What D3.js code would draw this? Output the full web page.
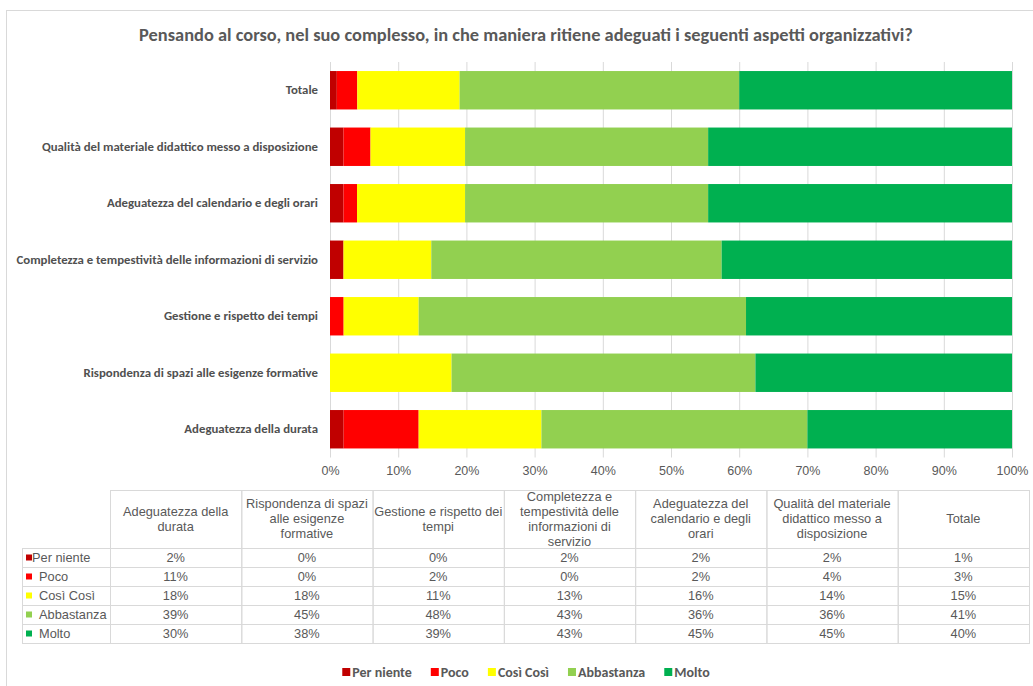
<!DOCTYPE html>
<html>
<head>
<meta charset="utf-8">
<script src="https://cdn.jsdelivr.net/npm/d3@7/dist/d3.min.js"></script>
<style>
  html, body { margin: 0; padding: 0; background: #fff; }
  svg { display: block; }
</style>
</head>
<body>
<svg id="chart" width="1033" height="686"></svg>
<script>
// Survey answers per organisational aspect (percentages)
const categories = [
  "Adeguatezza della durata",
  "Rispondenza di spazi alle esigenze formative",
  "Gestione e rispetto dei tempi",
  "Completezza e tempestività delle informazioni di servizio",
  "Adeguatezza del calendario e degli orari",
  "Qualità del materiale didattico messo a disposizione",
  "Totale"
];
// the same names as wrapped in the data table header
const headerLabels = [
  ["Adeguatezza della", "durata"],
  ["Rispondenza di spazi", "alle esigenze", "formative"],
  ["Gestione e rispetto dei", "tempi"],
  ["Completezza e", "tempestività delle", "informazioni di", "servizio"],
  ["Adeguatezza del", "calendario e degli", "orari"],
  ["Qualità del materiale", "didattico messo a", "disposizione"],
  ["Totale"]
];
const seriesNames = ["Per niente", "Poco", "Così Così", "Abbastanza", "Molto"];
const perNiente  = [2, 0, 0, 2, 2, 2, 1];
const poco       = [11, 0, 2, 0, 2, 4, 3];
const cosiCosi   = [18, 18, 11, 13, 16, 14, 15];
const abbastanza = [39, 45, 48, 43, 36, 36, 41];
const molto      = [30, 38, 39, 43, 45, 45, 40];
const xTicks = [0, 10, 20, 30, 40, 50, 60, 70, 80, 90, 100];
const colors = ["#C00000", "#FF0000", "#FFFF00", "#92D050", "#00B050"];
const title = "Pensando al corso, nel suo complesso, in che maniera ritiene adeguati i seguenti aspetti organizzativi?";

const seriesValues = [perNiente, poco, cosiCosi, abbastanza, molto];
const rows = categories.map((c, i) => {
  const r = { category: c };
  seriesNames.forEach((s, k) => { r[s] = seriesValues[k][i]; });
  return r;
});

const svg = d3.select("#chart");
const textGray = "#595959";
const gridGray = "#d9d9d9";
const calibri = "Carlito, Lato, 'Open Sans', sans-serif";
const arial = "'Liberation Sans', Arial, sans-serif";
const tableFont = 12.8;

// chart frame
svg.append("rect")
  .attr("x", 6.5).attr("y", 10.5)
  .attr("width", 1060).attr("height", 700)
  .attr("fill", "#fff").attr("stroke", gridGray);

// title
svg.append("text")
  .attr("x", 526).attr("y", 41)
  .attr("text-anchor", "middle")
  .attr("font-family", calibri).attr("font-weight", "bold")
  .attr("font-size", 18.4).attr("fill", textGray)
  .text(title);

// scales
const x = d3.scaleLinear().domain([0, 1]).range([330, 1012]);
const y = d3.scaleBand()
  .domain(categories.slice().reverse())
  .range([62, 457.5])
  .paddingInner(0.32)
  .paddingOuter(0.16);

// vertical gridlines
svg.append("g").selectAll("line")
  .data(xTicks)
  .join("line")
  .attr("x1", d => x(d / 100) + 0.5).attr("x2", d => x(d / 100) + 0.5)
  .attr("y1", 62).attr("y2", 457.5)
  .attr("stroke", gridGray).attr("stroke-width", 1);

// x axis tick labels
const xAxis = d3.axisBottom(x)
  .tickValues(xTicks.map(d => d / 100))
  .tickFormat(d3.format(".0%"))
  .tickSize(0).tickPadding(0);
const gx = svg.append("g").attr("transform", "translate(0,466)").call(xAxis);
gx.select(".domain").remove();
gx.selectAll("text")
  .attr("font-family", arial).attr("font-size", 12.5).attr("fill", textGray)
  .attr("dy", "0.71em");

// category labels
const yAxis = d3.axisLeft(y).tickSize(0).tickPadding(0);
const gy = svg.append("g").attr("transform", "translate(318,0)").call(yAxis);
gy.select(".domain").remove();
gy.selectAll("text")
  .attr("font-family", calibri).attr("font-weight", "bold")
  .attr("font-size", 12.8).attr("fill", "#505050");

// 100% stacked bars
const stack = d3.stack().keys(seriesNames).offset(d3.stackOffsetExpand);
const stacked = stack(rows);
svg.append("g").selectAll("g")
  .data(stacked)
  .join("g")
  .attr("fill", (d, i) => colors[i])
  .selectAll("rect")
  .data(d => d)
  .join("rect")
  .attr("x", d => x(d[0]))
  .attr("width", d => x(d[1]) - x(d[0]))
  .attr("y", d => y(d.data.category))
  .attr("height", y.bandwidth());

// data table
const tx0 = 22, firstW = 88, colW = (1029 - 110) / categories.length;
const headTop = 490, headH = 58, rowH = 19;
const table = svg.append("g");

// header cells
headerLabels.forEach((lines, i) => {
  const cx = 110 + i * colW;
  table.append("rect")
    .attr("x", cx + 0.5).attr("y", headTop + 0.5)
    .attr("width", colW).attr("height", headH)
    .attr("fill", "none").attr("stroke", gridGray);
  const lh = 15;
  const startY = headTop + headH / 2 - (lines.length - 1) * lh / 2;
  const t = table.append("text")
    .attr("font-family", arial).attr("font-size", tableFont).attr("fill", textGray)
    .attr("text-anchor", "middle");
  lines.forEach((l, k) => {
    t.append("tspan")
      .attr("x", cx + colW / 2)
      .attr("y", startY + k * lh)
      .attr("dy", "0.35em")
      .text(l);
  });
});

// value rows
seriesNames.forEach((s, r) => {
  const ry = headTop + headH + r * rowH;
  table.append("rect")
    .attr("x", tx0 + 0.5).attr("y", ry + 0.5)
    .attr("width", firstW).attr("height", rowH)
    .attr("fill", "none").attr("stroke", gridGray);
  table.append("rect")
    .attr("x", 26).attr("y", ry + rowH / 2 - 3)
    .attr("width", 6).attr("height", 6)
    .attr("fill", colors[r]);
  table.append("text")
    .attr("x", r === 0 ? 32 : 39).attr("y", ry + rowH / 2)
    .attr("dy", "0.35em")
    .attr("font-family", arial).attr("font-size", tableFont).attr("fill", textGray)
    .text(s);
  seriesValues[r].forEach((v, i) => {
    const cx = 110 + i * colW;
    table.append("rect")
      .attr("x", cx + 0.5).attr("y", ry + 0.5)
      .attr("width", colW).attr("height", rowH)
      .attr("fill", "none").attr("stroke", gridGray);
    table.append("text")
      .attr("x", cx + colW / 2).attr("y", ry + rowH / 2)
      .attr("dy", "0.35em").attr("text-anchor", "middle")
      .attr("font-family", arial).attr("font-size", tableFont).attr("fill", textGray)
      .text(v + "%");
  });
});

// legend
const legend = svg.append("g");
const items = seriesNames.map((s, i) => {
  const g = legend.append("g");
  g.append("rect").attr("width", 8).attr("height", 8).attr("y", -4).attr("fill", colors[i]);
  const t = g.append("text")
    .attr("x", 10).attr("dy", "0.35em")
    .attr("font-family", calibri).attr("font-weight", "bold")
    .attr("font-size", 14).attr("fill", textGray)
    .text(s);
  return { g, w: 10 + t.node().getComputedTextLength() };
});
const gap = 19;
const totalW = d3.sum(items, d => d.w) + gap * (items.length - 1);
let lx = 526 - totalW / 2;
items.forEach(it => {
  it.g.attr("transform", `translate(${lx},672)`);
  lx += it.w + gap;
});
</script>
</body>
</html>
